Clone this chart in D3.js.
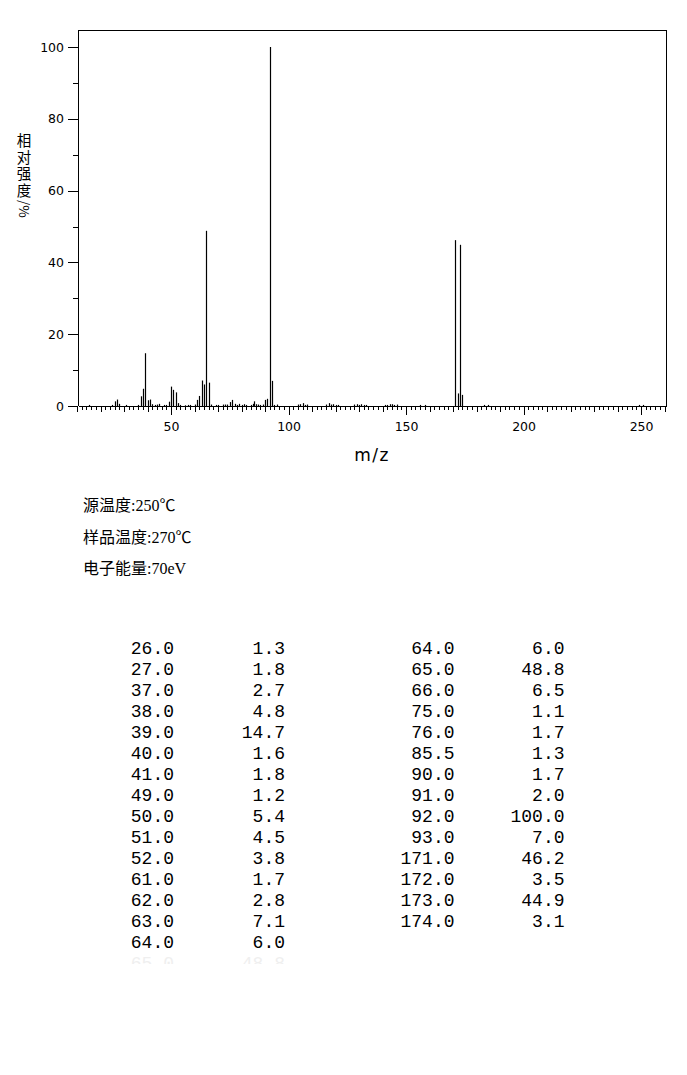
<!DOCTYPE html>
<html>
<head>
<meta charset="utf-8">
<script src="https://cdn.jsdelivr.net/npm/d3@7"></script>
<style>
  html, body { margin: 0; padding: 0; background: #fff; }
  svg { display: block; }
</style>
</head>
<body>
<svg id="chart"></svg>
<script>
// listed peaks (also printed in the table below the chart)
var tableMz = [26, 27, 37, 38, 39, 40, 41, 49, 50, 51, 52, 61, 62, 63, 64,
               65, 66, 75, 76, 85.5, 90, 91, 92, 93, 171, 172, 173, 174];
var tableIntensity = [1.3, 1.8, 2.7, 4.8, 14.7, 1.6, 1.8, 1.2, 5.4, 4.5, 3.8, 1.7, 2.8, 7.1, 6.0,
                      48.8, 6.5, 1.1, 1.7, 1.3, 1.7, 2.0, 100.0, 7.0, 46.2, 3.5, 44.9, 3.1];

// small peaks only seen in the plot (estimated)
var minorMz = [15, 25, 28, 31, 36, 42, 43, 44, 45, 47, 48, 53, 54, 56, 57, 58, 60,
               67, 69, 70, 72, 73, 74, 77, 78, 79, 80, 81, 82, 84, 85, 86, 87, 88, 89,
               94, 95, 104, 105, 106, 107, 108, 116, 117, 118, 119, 120, 121,
               128, 129, 130, 131, 132, 133, 141, 142, 143, 144, 145, 146,
               156, 158, 183, 185, 249, 251];
var minorIntensity = [0.3, 0.3, 0.6, 0.3, 0.3, 0.5, 0.3, 0.4, 0.6, 0.3, 0.3, 0.8, 0.3, 0.2, 0.3, 0.3, 0.4,
                      0.4, 0.3, 0.3, 0.4, 0.4, 0.4, 0.6, 0.3, 0.6, 0.3, 0.5, 0.3, 0.3, 0.6, 0.5, 0.4, 0.3, 0.4,
                      0.3, 0.4, 0.4, 0.5, 0.8, 0.3, 0.4, 0.4, 0.8, 0.4, 0.5, 0.3, 0.3,
                      0.4, 0.5, 0.3, 0.5, 0.3, 0.3, 0.3, 0.3, 0.5, 0.5, 0.3, 0.4,
                      0.3, 0.3, 0.3, 0.3, 0.3, 0.3];

var yMajorTicks = [0, 20, 40, 60, 80, 100];
var yMinorTicks = [10, 30, 50, 70, 90];
var xMajorTicks = [50, 100, 150, 200, 250];

var yTitleChars = ["相", "对", "强", "度"];
var yTitleUnit = "/%";

var conditions = ["源温度:250℃", "样品温度:270℃", "电子能量:70eV"];

// table layout: left column 15 rows (+ one cut-off row), right column the rest
var leftRows = 15;

var width = 687, height = 1075;

var svg = d3.select("#chart")
    .attr("width", width)
    .attr("height", height);

var plot = { left: 78, right: 666, top: 30, bottom: 406 };

var x = d3.scaleLinear()
    .domain([10.4, 260.6])
    .range([plot.left, plot.right]);

var y = d3.scaleLinear()
    .domain([0, 100])
    .range([plot.bottom, 47]);

var peaks = [];
for (i = 0; i < tableMz.length; i++) {
    peaks.push({ mz: tableMz[i], v: tableIntensity[i] });
}
for (i = 0; i < minorMz.length; i++) {
    peaks.push({ mz: minorMz[i], v: minorIntensity[i] });
}

// frame (top + right)
svg.append("path")
    .attr("d", "M" + plot.left + "," + plot.top + "H" + plot.right + "V" + plot.bottom)
    .attr("fill", "none")
    .attr("stroke", "#000")
    .attr("stroke-width", 1)
    .attr("shape-rendering", "crispEdges");

// x axis: minor every 2, medium every 10, major every 50
var minorX = d3.range(10, 261, 2);
var medX = d3.range(10, 261, 10).filter(function(d) { return d % 50 != 0; });

function styleAxis(g) {
    g.selectAll("path, line").attr("stroke", "#000").attr("shape-rendering", "crispEdges");
    g.selectAll("text")
        .attr("fill", "#000")
        .style("font-family", "DejaVu Sans, sans-serif")
        .style("font-size", "12.5px");
}

svg.append("g")
    .attr("transform", "translate(0," + plot.bottom + ")")
    .call(d3.axisBottom(x).tickValues(minorX).tickSize(4).tickFormat("").tickSizeOuter(0))
    .call(styleAxis);

svg.append("g")
    .attr("transform", "translate(0," + plot.bottom + ")")
    .call(d3.axisBottom(x).tickValues(medX).tickSize(6).tickFormat(""))
    .call(function(g) { g.select(".domain").remove(); })
    .call(styleAxis);

svg.append("g")
    .attr("transform", "translate(0," + plot.bottom + ")")
    .call(d3.axisBottom(x).tickValues(xMajorTicks).tickSize(9).tickPadding(7))
    .call(function(g) { g.select(".domain").remove(); })
    .call(styleAxis);

// y axis
svg.append("g")
    .attr("transform", "translate(" + plot.left + ",0)")
    .call(d3.axisLeft(y).tickValues(yMinorTicks).tickSize(5).tickFormat(""))
    .call(function(g) { g.select(".domain").remove(); })
    .call(styleAxis);

svg.append("g")
    .attr("transform", "translate(" + plot.left + ",0)")
    .call(d3.axisLeft(y).tickValues(yMajorTicks).tickSize(10).tickPadding(4))
    .call(function(g) { g.select(".domain").remove(); })
    .call(styleAxis);

svg.append("line")
    .attr("x1", plot.left).attr("x2", plot.left)
    .attr("y1", plot.top).attr("y2", plot.bottom)
    .attr("stroke", "#000")
    .attr("shape-rendering", "crispEdges");

// peaks
svg.append("g").selectAll(".peak")
    .data(peaks)
    .enter().append("line")
    .attr("class", "peak")
    .attr("x1", function(d) { return Math.round(x(d.mz)) + 0.5; })
    .attr("x2", function(d) { return Math.round(x(d.mz)) + 0.5; })
    .attr("y1", y(0))
    .attr("y2", function(d) { return y(d.v); })
    .attr("stroke", "#000")
    .attr("stroke-width", 1.2);

// axis titles
svg.append("text")
    .attr("x", 372)
    .attr("y", 461)
    .attr("text-anchor", "middle")
    .style("font-family", "DejaVu Sans, sans-serif")
    .style("font-size", "17px")
    .style("letter-spacing", "1.5px")
    .text("m/z");

// vertical y title: upright CJK characters stacked in one text, unit turned sideways
var ytitle = svg.append("g")
    .style("font-family", "Noto Sans CJK SC, sans-serif")
    .style("font-size", "14.5px")
    .attr("fill", "#000");

ytitle.append("text")
    .attr("text-anchor", "middle")
    .selectAll("tspan")
    .data(yTitleChars)
    .enter().append("tspan")
    .attr("x", 24)
    .attr("y", function(d, i) { return 146 + i * 16.5; })
    .text(function(d) { return d; });

ytitle.append("text")
    .attr("transform", "translate(19,200) rotate(90)")
    .style("font-size", "13.5px")
    .text(yTitleUnit);

// instrument conditions
svg.append("g").selectAll(".cond")
    .data(conditions)
    .enter().append("text")
    .attr("class", "cond")
    .attr("x", 83)
    .attr("y", function(d, i) { return 511 + i * 31.5; })
    .style("font-family", "Liberation Serif, Noto Sans CJK SC, serif")
    .style("font-size", "16px")
    .text(function(d) { return d; });

// peak table
var tableRows = [];
for (i = 0; i < tableMz.length; i++) {
    var col = i < leftRows ? 0 : 1;
    var row = i < leftRows ? i : i - leftRows + 1;
    tableRows.push({ mz: tableMz[i], v: tableIntensity[i], col: col, row: row });
}
// right column starts by repeating the last row of the left column
tableRows.push({ mz: tableMz[leftRows - 1], v: tableIntensity[leftRows - 1], col: 1, row: 0 });
// the left column continues below the fold (cut off)
tableRows.push({ mz: tableMz[leftRows], v: tableIntensity[leftRows], col: 0, row: leftRows, cut: true });

var colX = [[174, 285], [454.5, 564.5]];

svg.append("clipPath").attr("id", "tableClip")
    .append("rect").attr("x", 0).attr("y", 620).attr("width", width).attr("height", 344);

var table = svg.append("g").attr("clip-path", "url(#tableClip)");

var cells = table.selectAll(".row")
    .data(tableRows)
    .enter().append("g")
    .attr("class", "row")
    .attr("transform", function(d) { return "translate(0," + (654 + d.row * 21) + ")"; })
    .attr("fill", function(d) { return d.cut ? "#efefef" : "#000"; })
    .style("font-family", "Liberation Mono, monospace")
    .style("font-size", "18px");

cells.append("text")
    .attr("x", function(d) { return colX[d.col][0]; })
    .attr("text-anchor", "end")
    .text(function(d) { return d.mz.toFixed(1); });

cells.append("text")
    .attr("x", function(d) { return colX[d.col][1]; })
    .attr("text-anchor", "end")
    .text(function(d) { return d.v.toFixed(1); });
</script>
</body>
</html>
